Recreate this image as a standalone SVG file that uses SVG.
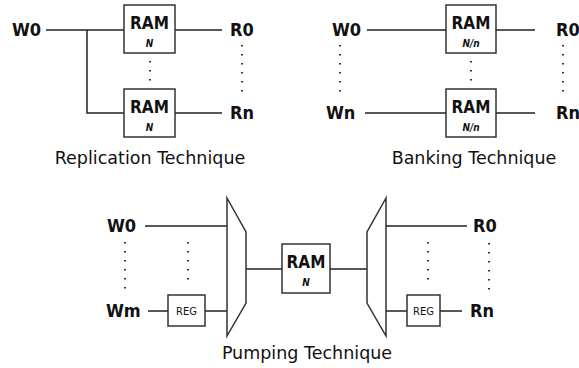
<svg xmlns="http://www.w3.org/2000/svg" width="579" height="368" viewBox="0 0 579 368">
<style>
.bg{fill:#fff}
.box{fill:#fff;stroke:#333;stroke-width:1.5}
.w{fill:none;stroke:#222;stroke-width:1.5}
.dot{fill:none;stroke:#333;stroke-width:2;stroke-dasharray:1.6 7.4}
.lbl{font-family:"DejaVu Sans Condensed","DejaVu Sans",sans-serif;font-stretch:condensed;font-weight:bold;font-size:18px;fill:#111}
.ram{font-family:"DejaVu Sans Condensed","DejaVu Sans",sans-serif;font-stretch:condensed;font-weight:bold;font-size:17px;fill:#111;text-anchor:middle}
.sz{font-family:"DejaVu Sans Condensed","DejaVu Sans",sans-serif;font-stretch:condensed;font-style:italic;font-weight:bold;font-size:10px;fill:#111;text-anchor:middle}
.reg{font-family:"DejaVu Sans Condensed","DejaVu Sans",sans-serif;font-stretch:condensed;font-size:11px;fill:#111;text-anchor:middle}
.cap{font-family:"DejaVu Sans",Verdana,sans-serif;font-size:17.5px;fill:#111;text-anchor:middle}
</style>
<rect class="bg" x="0" y="0" width="579" height="368"/>
<g id="connectors">
  <path class="w" d="M46 30H124M87 30V113H124M175 30H222M175 113H222"/>
  <line class="dot" x1="150" y1="61" x2="150" y2="82"/>
  <line class="dot" x1="242" y1="45" x2="242" y2="97"/>
  <path class="w" d="M367 30H446M365 113H446M496 30H535M496 113H535"/>
  <line class="dot" x1="340" y1="45" x2="340" y2="97"/>
  <line class="dot" x1="471" y1="61" x2="471" y2="82"/>
  <line class="dot" x1="563" y1="45" x2="563" y2="97"/>
  <path class="w" d="M145 226H227M148 311H168M205 311H227M246 269H282M330 269H367M386 226H467M386 311H407M440 311H462"/>
  <line class="dot" x1="125" y1="242" x2="125" y2="295"/>
  <line class="dot" x1="188" y1="242" x2="188" y2="285"/>
  <line class="dot" x1="428" y1="242" x2="428" y2="285"/>
  <line class="dot" x1="489" y1="243" x2="489" y2="296"/>
</g>
<g id="rep-ram0"><rect class="box" x="124" y="5" width="51" height="48"/><text class="ram" x="149.5" y="29">RAM</text><text class="sz" x="149.5" y="47">N</text></g>
<g id="rep-ramn"><rect class="box" x="124" y="89" width="51" height="48"/><text class="ram" x="149.5" y="113">RAM</text><text class="sz" x="149.5" y="131">N</text></g>
<g id="rep-w0"><text class="lbl" x="12" y="36">W0</text></g>
<g id="rep-r0"><text class="lbl" x="230" y="36">R0</text></g>
<g id="rep-rn"><text class="lbl" x="230" y="119">Rn</text></g>
<g id="rep-cap"><text class="cap" x="150" y="164">Replication Technique</text></g>

<g id="bank-ram0"><rect class="box" x="446" y="5" width="50" height="48"/><text class="ram" x="471" y="29">RAM</text><text class="sz" x="471" y="47">N/n</text></g>
<g id="bank-ramn"><rect class="box" x="446" y="89" width="50" height="48"/><text class="ram" x="471" y="113">RAM</text><text class="sz" x="471" y="131">N/n</text></g>
<g id="bank-w0"><text class="lbl" x="332" y="36">W0</text></g>
<g id="bank-wn"><text class="lbl" x="326" y="119">Wn</text></g>
<g id="bank-r0"><text class="lbl" x="556" y="36">R0</text></g>
<g id="bank-rn"><text class="lbl" x="556" y="119">Rn</text></g>
<g id="bank-cap"><text class="cap" x="474" y="164">Banking Technique</text></g>

<g id="pump-w0"><text class="lbl" x="107" y="232">W0</text></g>
<g id="pump-wm"><text class="lbl" x="106" y="317">Wm</text></g>
<g id="pump-reg-in"><rect class="box" x="168" y="295" width="37" height="31"/><text class="reg" x="186.5" y="315">REG</text></g>
<g id="pump-mux-in"><path class="box" d="M227 198L246 232V303L227 336Z"/></g>
<g id="pump-ram"><rect class="box" x="282" y="244" width="48" height="49"/><text class="ram" x="306" y="268">RAM</text><text class="sz" x="306" y="286">N</text></g>
<g id="pump-mux-out"><path class="box" d="M386 198L367 232V303L386 336Z"/></g>
<g id="pump-reg-out"><rect class="box" x="407" y="295" width="33" height="31"/><text class="reg" x="423.5" y="315">REG</text></g>
<g id="pump-r0"><text class="lbl" x="473" y="232">R0</text></g>
<g id="pump-rn"><text class="lbl" x="470" y="317">Rn</text></g>
<g id="pump-cap"><text class="cap" x="307" y="359">Pumping Technique</text></g>
</svg>
